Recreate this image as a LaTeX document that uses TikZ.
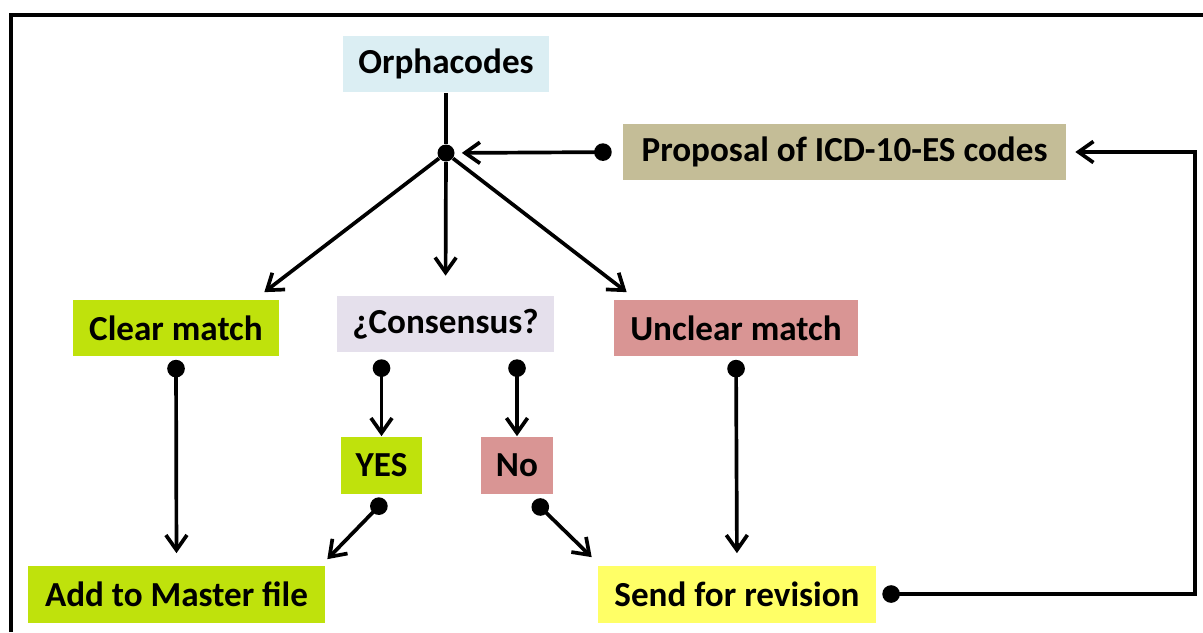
\documentclass[tikz,border=0pt]{standalone}
\usepackage{fontspec}
\setmainfont{Carlito}
\usepackage{tikz}
\usetikzlibrary{arrows.meta}
\definecolor{orphablue}{HTML}{DBEEF3}
\definecolor{proposaltan}{HTML}{C4BD97}
\definecolor{matchgreen}{HTML}{BFE20C}
\definecolor{consensuslilac}{HTML}{E5E0EC}
\definecolor{unclearpink}{HTML}{D99594}
\definecolor{revisionyellow}{HTML}{FFFF66}

\begin{document}
\begin{tikzpicture}[x=0.02cm,y=-0.02cm,
		box/.style={font=\bfseries\fontsize{20}{23}\selectfont, minimum height=1.14cm, inner sep=0pt},
		link/.style={line width=2.1pt, -{Straight Barb[length=8.5pt,width=12pt,line width=2.1pt]}},
		dotlink/.style={link, {Circle[length=10pt,width=10pt]}-{Straight Barb[length=8.5pt,width=12pt,line width=2.1pt]}}]
		\useasboundingbox (0,0) rectangle (1203,632);
		% frame
		\draw[line width=2.1pt] (11,632) -- (11,15) -- (1203,15);
		% boxes
		\node[box, fill=orphablue, minimum width=4.12cm] (orpha) at (446,64) {Orphacodes};
		\node[box, fill=proposaltan, minimum width=8.86cm] (proposal) at (844.5,152) {Proposal of ICD-10-ES codes};
		\node[box, fill=matchgreen, minimum width=4.12cm] (clear) at (176,328) {Clear match};
		\node[box, fill=consensuslilac, minimum width=4.34cm, minimum height=1.12cm] (consensus) at (445.5,324) {¿Consensus?};
		\node[box, fill=unclearpink, minimum width=4.88cm] (unclear) at (736,328) {Unclear match};
		\node[box, fill=matchgreen, minimum width=1.62cm] (yes) at (381.5,465) {YES};
		\node[box, fill=unclearpink, minimum width=1.44cm] (no) at (517,465) {No};
		\node[box, fill=matchgreen, minimum width=5.94cm] (master) at (176.5,594) {Add to Master file};
		\node[box, fill=revisionyellow, minimum width=5.56cm] (revision) at (737,594) {Send for revision};
		\node[circle, fill=black, inner sep=0pt, minimum size=0.34cm] (hub) at (446,153) {};
		\coordinate (loop) at (1195,152);
		% connectors
		\draw[line width=2.1pt] (orpha.south) -- (hub);
		\draw[dotlink, shorten <=0.22cm, shorten >=0.14cm] (proposal.west) -- (hub);
		\draw[link] (hub) -- ([xshift=-0.3cm,yshift=0.14cm]clear.north east);
		\draw[link, shorten >=0.4cm] (hub) -- (consensus.north);
		\draw[link] (hub) -- ([xshift=0.26cm,yshift=0.14cm]unclear.north west);
		\draw[dotlink, shorten <=0.06cm, shorten >=0.24cm] (clear.south) -- (master.north);
		\draw[dotlink, shorten <=0.14cm] (yes.north |- consensus.south) -- (yes.north);
		\draw[dotlink, shorten <=0.14cm] (no.north |- consensus.south) -- (no.north);
		\draw[dotlink, shorten <=0.06cm, shorten >=0.24cm] (unclear.south) -- (revision.north);
		\draw[dotlink] ([xshift=0.07cm,yshift=-0.12cm]yes.south) -- ([xshift=0.04cm,yshift=0.12cm]master.north east);
		\draw[dotlink] ([xshift=0.34cm,yshift=-0.14cm]no.south) -- ([xshift=-0.12cm,yshift=0.16cm]revision.north west);
		\draw[dotlink, shorten <=0.12cm, shorten >=0.18cm] (revision.east) -| (loop) -- (proposal.east);
	\end{tikzpicture}
\end{document}
